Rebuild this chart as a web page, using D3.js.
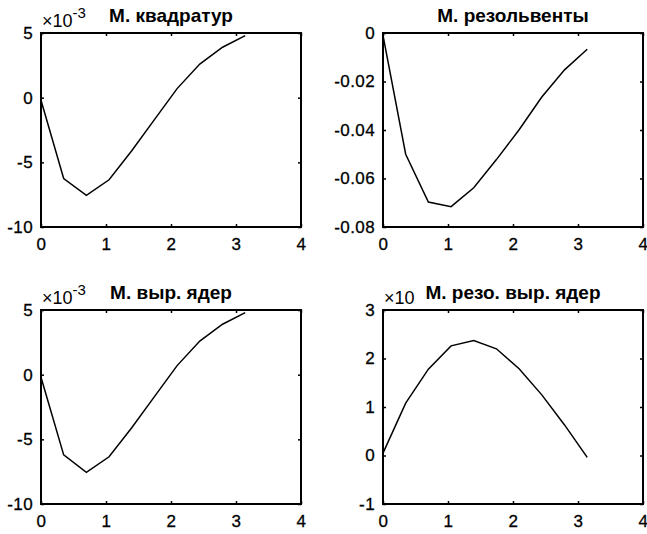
<!DOCTYPE html>
<html>
<head>
<meta charset="utf-8">
<script src="https://cdn.jsdelivr.net/npm/d3@7"></script>
<style>
  body { margin: 0; background: #fff; }
  svg { display: block; }
  .tick text { font-family: "Liberation Sans", Arial, sans-serif; font-size: 17px; letter-spacing: 0.4px; fill: #000; stroke: #000; stroke-width: 0.3px; }
  .title { font-family: "Liberation Sans", Arial, sans-serif; font-weight: bold; font-size: 19px; }
  .expo { font-family: "Liberation Sans", Arial, sans-serif; font-size: 18px; }
</style>
</head>
<body>
<svg id="chart" width="647" height="534"></svg>
<script>
// x points (same for all panels)
const xVals = [0, 0.349, 0.698, 1.047, 1.396, 1.745, 2.094, 2.443, 2.793, 3.142];

// series values
const quadVals = [-0.2, -6.25, -7.55, -6.35, -4.1, -1.7, 0.7, 2.6, 3.9, 4.8];          // x 1e-3
const resolvVals = [-0.001, -0.050, -0.0697, -0.0716, -0.0638, -0.0522, -0.0399, -0.0264, -0.0152, -0.0067];
const kernVals = [-0.2, -6.2, -7.55, -6.35, -4.1, -1.7, 0.7, 2.6, 3.9, 4.8];           // x 1e-3
const resKernVals = [0.05, 1.08, 1.78, 2.26, 2.37, 2.2, 1.79, 1.25, 0.63, -0.04];     // x 10^?

// axes
const xTicks = [0, 1, 2, 3, 4];
const yTicksQuad = [-10, -5, 0, 5];
const yTicksResolv = [-0.08, -0.06, -0.04, -0.02, 0];
const yTicksResKern = [-1, 0, 1, 2, 3];

const titles = ["М. квадратур", "М. резольвенты", "М. выр. ядер", "М. резо. выр. ядер"];

const svg = d3.select("#chart");

// panel boxes
const colX = [41, 383];
const rowY = [33, 310];
const pw = 260, ph = 194;

const panels = [
  { col: 0, row: 0, y: quadVals, yTicks: yTicksQuad, fmt: d => String(d), expo: "-3", title: titles[0] },
  { col: 1, row: 0, y: resolvVals, yTicks: yTicksResolv, fmt: d => d === 0 ? "0" : d.toFixed(2), expo: null, title: titles[1] },
  { col: 0, row: 1, y: kernVals, yTicks: yTicksQuad, fmt: d => String(d), expo: "-3", title: titles[2] },
  { col: 1, row: 1, y: resKernVals, yTicks: yTicksResKern, fmt: d => String(d), expo: "", title: titles[3] }
];

panels.forEach(p => {
  const left = colX[p.col], top = rowY[p.row];
  const g = svg.append("g").attr("transform", `translate(${left},${top})`);

  const x = d3.scaleLinear().domain([0, 4]).range([0, pw]);
  const y = d3.scaleLinear().domain(d3.extent(p.yTicks)).range([ph, 0]);

  // bottom axis with labels
  g.append("g")
    .attr("transform", `translate(0,${ph})`)
    .call(d3.axisBottom(x).tickValues(xTicks).tickSizeInner(-3).tickSizeOuter(0).tickPadding(11).tickFormat(d => String(d)))
    .call(a => a.select(".domain").remove());
  // top ticks
  g.append("g")
    .call(d3.axisTop(x).tickValues(xTicks).tickSizeInner(-3).tickSizeOuter(0).tickFormat(""))
    .call(a => a.select(".domain").remove());
  // left axis
  g.append("g")
    .call(d3.axisLeft(y).tickValues(p.yTicks).tickSizeInner(-3).tickSizeOuter(0).tickPadding(8).tickFormat(p.fmt))
    .call(a => a.select(".domain").remove());
  // right ticks
  g.append("g")
    .attr("transform", `translate(${pw},0)`)
    .call(d3.axisRight(y).tickValues(p.yTicks).tickSizeInner(-3).tickSizeOuter(0).tickFormat(""))
    .call(a => a.select(".domain").remove());

  g.selectAll(".tick line").attr("stroke", "#000").attr("stroke-width", 1.5);

  // frame
  g.append("rect")
    .attr("width", pw).attr("height", ph)
    .attr("fill", "none").attr("stroke", "#000").attr("stroke-width", 2);

  // data line
  const line = d3.line().x((d, i) => x(xVals[i])).y(d => y(d));
  g.append("path")
    .datum(p.y)
    .attr("d", line)
    .attr("fill", "none")
    .attr("stroke", "#000")
    .attr("stroke-width", 1.5);

  // exponent label
  if (p.expo !== null) {
    const t = g.append("text").attr("class", "expo").attr("x", 1).attr("y", -6);
    t.append("tspan").text("×10");
    if (p.expo) t.append("tspan").attr("dy", -9).attr("font-size", 15).text(p.expo);
  }

  // title
  g.append("text")
    .attr("class", "title")
    .attr("x", pw / 2).attr("y", -11)
    .attr("text-anchor", "middle")
    .text(p.title);
});
</script>
</body>
</html>
